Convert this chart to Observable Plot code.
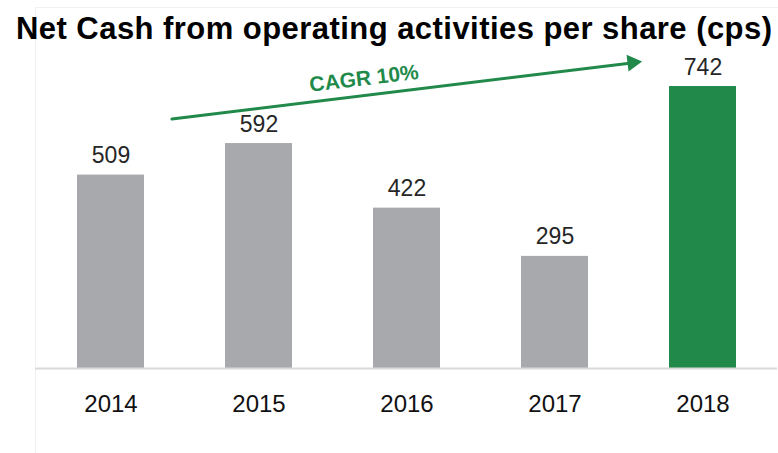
<!DOCTYPE html>
<html>
<head>
<meta charset="utf-8">
<script src="https://cdn.jsdelivr.net/npm/d3@7"></script>
<script src="https://cdn.jsdelivr.net/npm/@observablehq/plot@0.6"></script>
<style>
  html, body { margin: 0; padding: 0; background: #fff; }
  #wrap { position: relative; width: 778px; height: 453px; overflow: hidden; }
  #frame { position: absolute; left: 35px; top: 7px; width: 760px; height: 460px;
           border-left: 1px solid #f1f1f1; border-top: 1px solid #f1f1f1; }
  #title { position: relative; height: 50px; }
  #title span { position: absolute; left: 16px; top: 14px; white-space: nowrap;
                font-family: "Liberation Sans", Arial, sans-serif; font-weight: bold;
                font-size: 31px; line-height: 30px; color: #000; }
  #chart { position: relative; }
</style>
</head>
<body>
<div id="wrap">
  <div id="frame"></div>
  <div id="title"><span id="titletext"></span></div>
  <div id="chart"></div>
</div>
<script>
// ---- data ----
const titleText = "Net Cash from operating activities per share (cps)";
const years = ["2014", "2015", "2016", "2017", "2018"];
const values = [509, 592, 422, 295, 742];
const highlightYear = "2018";
const cagrLabel = "CAGR 10%";

const gray = "#a7a9ac";
const green = "#218a4b";

const data = years.map((year, i) => ({year, value: values[i]}));

// title
const t = document.getElementById("titletext");
t.textContent = titleText;
const targetW = 756;
const w0 = t.getBoundingClientRect().width;
t.style.letterSpacing = ((targetW - w0) / (titleText.length - 1)) + "px";

// annotation: arrow from between 2014/2015 up to just before 2018
const arrowData = [{x1: years[0], x2: years[4], y1: 637, y2: 827}];
const headData = [{x: years[4], y: 805}];
const cagrData = [{x: years[2], y: 763, text: cagrLabel}];

const chart = Plot.plot({
  width: 778,
  height: 403,
  marginLeft: 35,
  marginRight: 1,
  marginTop: 14,
  marginBottom: 85,
  x: {domain: years, paddingInner: 0.5485, paddingOuter: 0.273, align: 0.5},
  y: {domain: [0, 800], axis: null},
  style: {fontFamily: "Liberation Sans, Arial, sans-serif", background: "transparent", overflow: "visible"},
  marks: [
    Plot.barY(data, {x: "year", y: "value", fill: d => d.year === highlightYear ? green : gray}),
    Plot.ruleY([0], {stroke: "#d9d9d9", strokeWidth: 2}),
    Plot.text(data, {x: "year", y: "value", text: d => String(d.value), lineAnchor: "bottom",
      dy: -12, fontSize: 23, fill: "#262626"}),
    Plot.axisX({tickSize: 0, tickPadding: 26, fontSize: 24, label: null, color: "#111"}),
    Plot.arrow(arrowData, {x1: "x1", x2: "x2", y1: "y1", y2: "y2", stroke: green, strokeWidth: 3,
      headLength: 0, insetStart: 61.4, insetEnd: 72}),
    Plot.dot(headData, {x: "x", y: "y", dx: -70.6, symbol: "triangle", r: 6.3, fill: green,
      stroke: "none", rotate: 83.1}),
    Plot.text(cagrData, {x: "x", y: "y", text: "text", dx: -43, rotate: -6.9, fontSize: 21,
      fontWeight: "bold", fill: green, textAnchor: "middle", lineAnchor: "middle"})
  ]
});
document.getElementById("chart").appendChild(chart);
</script>
</body>
</html>
